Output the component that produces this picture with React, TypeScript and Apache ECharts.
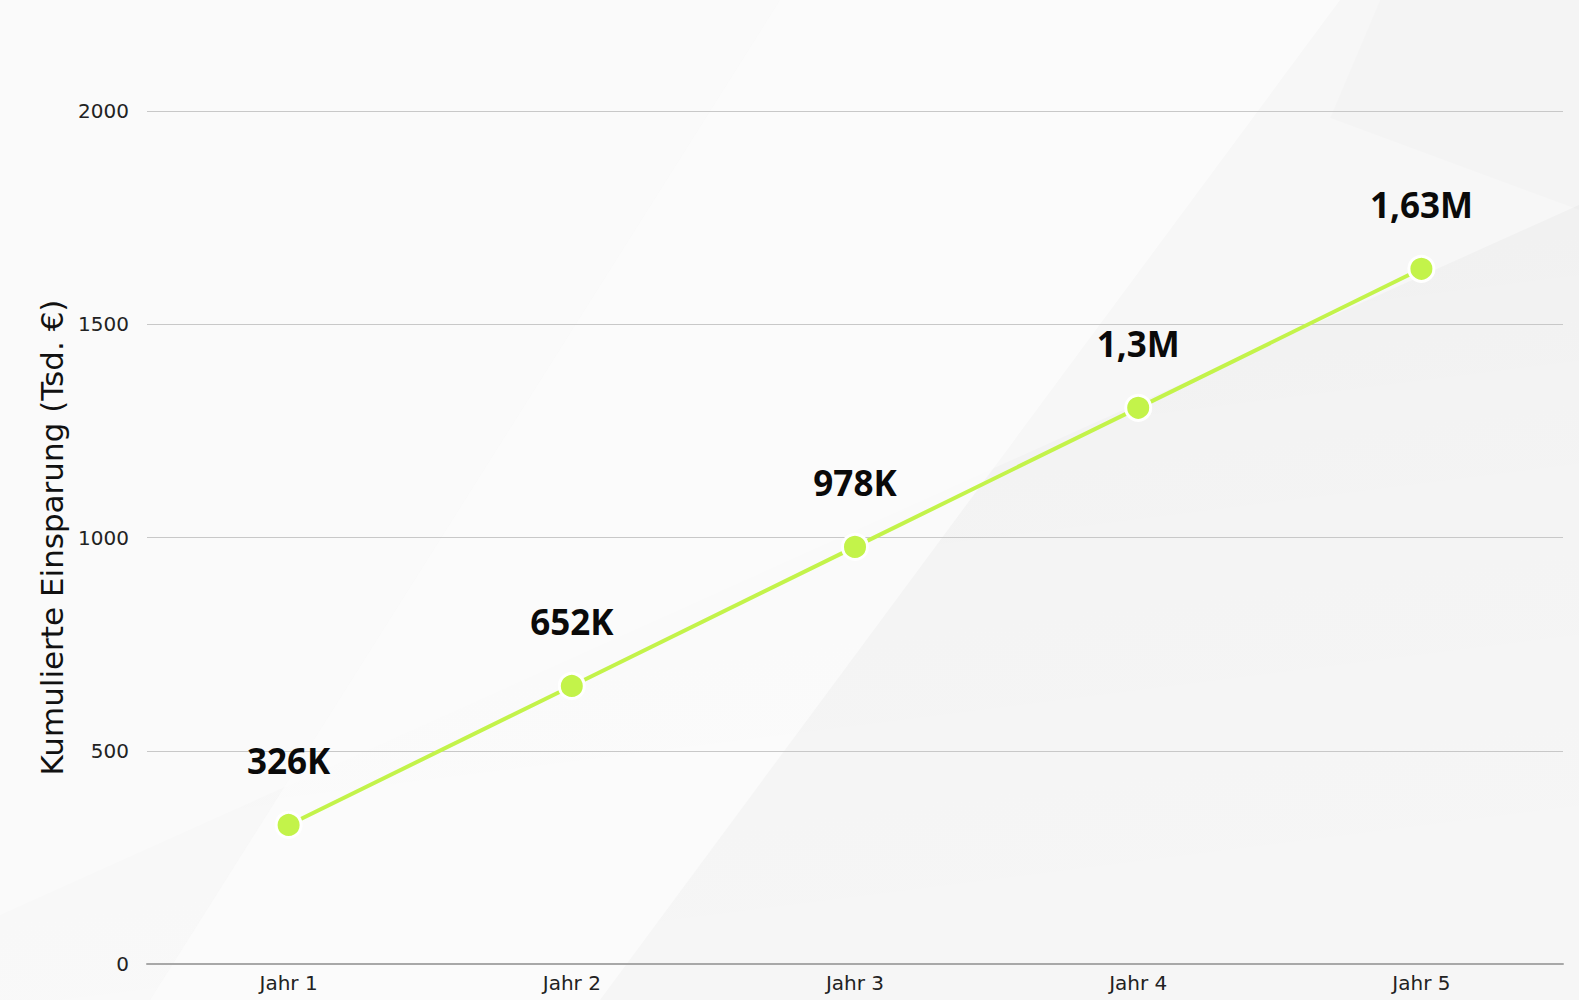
import React, { useEffect, useRef } from "react";
import * as echarts from "echarts";

const categories = ["Jahr 1", "Jahr 2", "Jahr 3", "Jahr 4", "Jahr 5"];
const savings = [326, 652, 978, 1304, 1630];
const valueLabels = ["326K", "652K", "978K", "1,3M", "1,63M"];
const yAxisName = "Kumulierte Einsparung (Tsd. €)";

const FONT = "'Open Sans', 'Noto Sans', sans-serif";
const WIDE = "'DejaVu Sans', 'Open Sans', sans-serif";

export default function App() {
  const ref = useRef<HTMLDivElement>(null);
  useEffect(() => {
    if (!ref.current) return;
    const chart = echarts.init(ref.current, undefined, { renderer: "svg" });
    chart.setOption({
      animation: false,
      backgroundColor: "#f7f7f7",
      graphic: [
        {
          type: "group",
          silent: true,
          z: -10,
          children: [
            { type: "polygon", shape: { points: [[0, 0], [780, 0], [150, 1000], [0, 1000]] }, style: { fill: "rgba(255,255,255,0.35)" } },
            {
              type: "polygon",
              shape: { points: [[0, 915], [1579, 205], [1579, 1000], [0, 1000]] },
              style: {
                fill: new echarts.graphic.LinearGradient(0, 0, 0.25, 1, [
                  { offset: 0, color: "rgba(0,0,0,0.035)" },
                  { offset: 0.5, color: "rgba(0,0,0,0.015)" },
                  { offset: 1, color: "rgba(0,0,0,0.005)" },
                ]),
              },
            },
            { type: "polygon", shape: { points: [[150, 1000], [600, 1000], [1340, 0], [780, 0]] }, style: { fill: "rgba(255,255,255,0.55)" } },
            { type: "polygon", shape: { points: [[1330, 118], [1579, 210], [1579, 0], [1380, 0]] }, style: { fill: "rgba(0,0,0,0.012)" } },
          ],
        },
      ],
      grid: { left: 147, right: 16, top: 111, bottom: 36, containLabel: false },
      xAxis: {
        type: "category",
        data: categories,
        boundaryGap: true,
        axisLine: { lineStyle: { color: "#a8a8a8", width: 2 } },
        axisTick: { show: false },
        axisLabel: { color: "#222", fontSize: 20, fontFamily: WIDE, margin: 9 },
      },
      yAxis: {
        type: "value",
        min: 0,
        max: 2000,
        interval: 500,
        name: yAxisName,
        nameLocation: "middle",
        nameGap: 78,
        nameTextStyle: { color: "#111", fontSize: 31, fontFamily: WIDE },
        axisLine: { show: false },
        axisTick: { show: false },
        axisLabel: {
          color: "#222",
          fontSize: 20,
          fontFamily: WIDE,
          margin: 18,
          formatter: (v: number) => String(v),
        },
        splitLine: { lineStyle: { color: "#c8c8c8", width: 1 } },
      },
      series: [
        {
          type: "line",
          data: savings,
          symbol: "circle",
          symbolSize: 25,
          lineStyle: { color: "#c3f34a", width: 4 },
          itemStyle: { color: "#c3f34a", borderColor: "#ffffff", borderWidth: 3 },
          label: {
            show: true,
            position: "top",
            distance: 33,
            color: "#0a0a0a",
            fontSize: 35,
            fontWeight: "bold",
            fontFamily: FONT,
            formatter: (p: any) => valueLabels[p.dataIndex],
          },
        },
      ],
    });
    return () => chart.dispose();
  }, []);
  return (
    <div
      ref={ref}
      style={{ position: "fixed", left: 0, top: 0, width: 1579, height: 1000 }}
    />
  );
}
